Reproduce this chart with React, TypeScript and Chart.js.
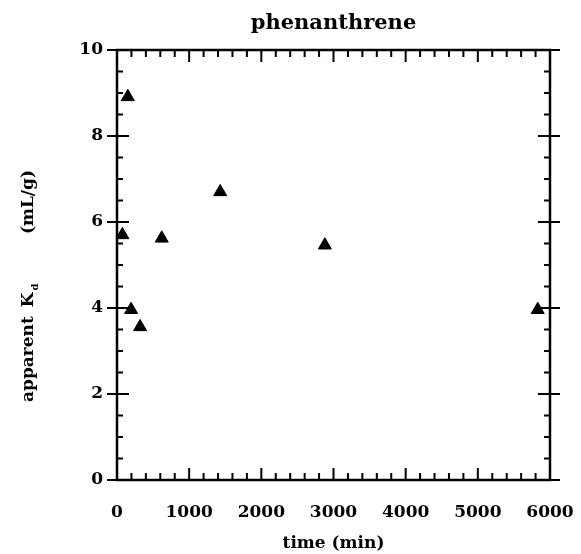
import React, { useEffect, useRef } from "react";
import { Chart, registerables } from "chart.js";

Chart.register(...registerables);

const timeMin = [75, 150, 195, 320, 620, 1430, 2880, 5830];
const kdApparent = [5.7, 8.91, 3.96, 3.56, 5.62, 6.7, 5.46, 3.96];
const xTickValues = [0, 1000, 2000, 3000, 4000, 5000, 6000];
const yTickValues = [0, 2, 4, 6, 8, 10];

const FONT = "'DejaVu Serif', 'Liberation Serif', serif";

const framePlugin = {
  id: "frameTicks",
  afterDraw(chart: any) {
    const { ctx, chartArea, scales } = chart;
    const { left, right, top, bottom } = chartArea;
    const x = scales.x;
    const y = scales.y;
    ctx.save();
    ctx.strokeStyle = "#000";
    ctx.lineCap = "butt";
    ctx.lineWidth = 2;
    for (let v = 200; v < 6000; v += 200) {
      const px = x.getPixelForValue(v);
      const major = v % 1000 === 0;
      const len = major ? 12 : 7;
      ctx.beginPath();
      ctx.moveTo(px, bottom);
      ctx.lineTo(px, bottom - len);
      ctx.moveTo(px, top);
      ctx.lineTo(px, top + len);
      ctx.stroke();
    }
    for (let i = 0; i <= 20; i++) {
      const v = i * 0.5;
      const py = y.getPixelForValue(v);
      const major = i % 4 === 0;
      ctx.beginPath();
      if (major) {
        ctx.moveTo(left - 10, py);
        ctx.lineTo(left + 12, py);
        ctx.moveTo(right - 12, py);
        ctx.lineTo(right + 10, py);
      } else {
        ctx.moveTo(left, py);
        ctx.lineTo(left + 6, py);
        ctx.moveTo(right - 6, py);
        ctx.lineTo(right, py);
      }
      ctx.stroke();
    }
    ctx.lineWidth = 2.5;
    ctx.strokeRect(left, top, right - left, bottom - top);

    // y-axis title with subscript
    ctx.fillStyle = "#000";
    ctx.translate(29, 402);
    ctx.rotate(-Math.PI / 2);
    ctx.textBaseline = "middle";
    ctx.textAlign = "left";
    ctx.font = `bold 17px ${FONT}`;
    const wApp = ctx.measureText("apparent").width;
    ctx.fillText("apparent", 0, 0);
    const kx = wApp + 9;
    ctx.fillText("K", kx, 0);
    const wK = ctx.measureText("K").width;
    ctx.font = `bold 10px ${FONT}`;
    ctx.fillText("d", kx + wK + 2, 6);
    ctx.font = `bold 17px ${FONT}`;
    ctx.textAlign = "right";
    ctx.fillText("(mL/g)", 232, 0);
    ctx.restore();
  },
};

export default function App() {
  const canvasRef = useRef<HTMLCanvasElement | null>(null);

  useEffect(() => {
    const canvas = canvasRef.current;
    if (!canvas) return;
    const chart = new Chart(canvas, {
      type: "scatter",
      data: {
        datasets: [
          {
            label: "phenanthrene",
            data: timeMin.map((t, i) => ({ x: t, y: kdApparent[i] })),
            pointStyle: "triangle",
            pointRadius: 7.5,
            pointHoverRadius: 7.5,
            backgroundColor: "#000",
            borderColor: "#000",
            borderWidth: 1,
          },
        ],
      },
      options: {
        responsive: false,
        devicePixelRatio: 1,
        animation: false,
        layout: { padding: { left: 0, right: 31, top: 0, bottom: 0 } },
        plugins: {
          legend: { display: false },
          tooltip: { enabled: false },
          title: {
            display: true,
            text: "phenanthrene",
            fullSize: false,
            color: "#000",
            font: { family: FONT, size: 21, weight: "bold" },
            padding: { top: 11, bottom: 13.8 },
          },
        },
        scales: {
          x: {
            type: "linear",
            min: 0,
            max: 6000,
            afterFit: (s: any) => {
              s.height = 74;
              s.paddingLeft = 0;
              s.paddingRight = 0;
            },
            afterBuildTicks: (s: any) => {
              s.ticks = xTickValues.map((v) => ({ value: v }));
            },
            grid: { display: false, drawTicks: false },
            border: { display: false },
            ticks: {
              color: "#000",
              padding: 22,
              maxRotation: 0,
              autoSkip: false,
              font: { family: FONT, size: 17, weight: "bold" },
              callback: (v: any) => String(v),
            },
            title: {
              display: true,
              text: "time (min)",
              color: "#000",
              font: { family: FONT, size: 17, weight: "bold" },
              padding: { top: 3, bottom: 0 },
            },
          },
          y: {
            type: "linear",
            min: 0,
            max: 10,
            afterFit: (s: any) => {
              s.width = 117;
              s.paddingTop = 0;
              s.paddingBottom = 0;
            },
            afterBuildTicks: (s: any) => {
              s.ticks = yTickValues.map((v) => ({ value: v }));
            },
            grid: { display: false, drawTicks: false },
            border: { display: false },
            ticks: {
              color: "#000",
              padding: 14,
              autoSkip: false,
              font: { family: FONT, size: 17, weight: "bold" },
              callback: (v: any) => String(v),
            },
          },
        },
      },
      plugins: [framePlugin],
    });
    return () => chart.destroy();
  }, []);

  return (
    <div style={{ position: "fixed", left: 0, top: 0, width: 581, height: 554, background: "#fff" }}>
      <canvas ref={canvasRef} width={581} height={554} style={{ width: 581, height: 554 }} />
    </div>
  );
}
